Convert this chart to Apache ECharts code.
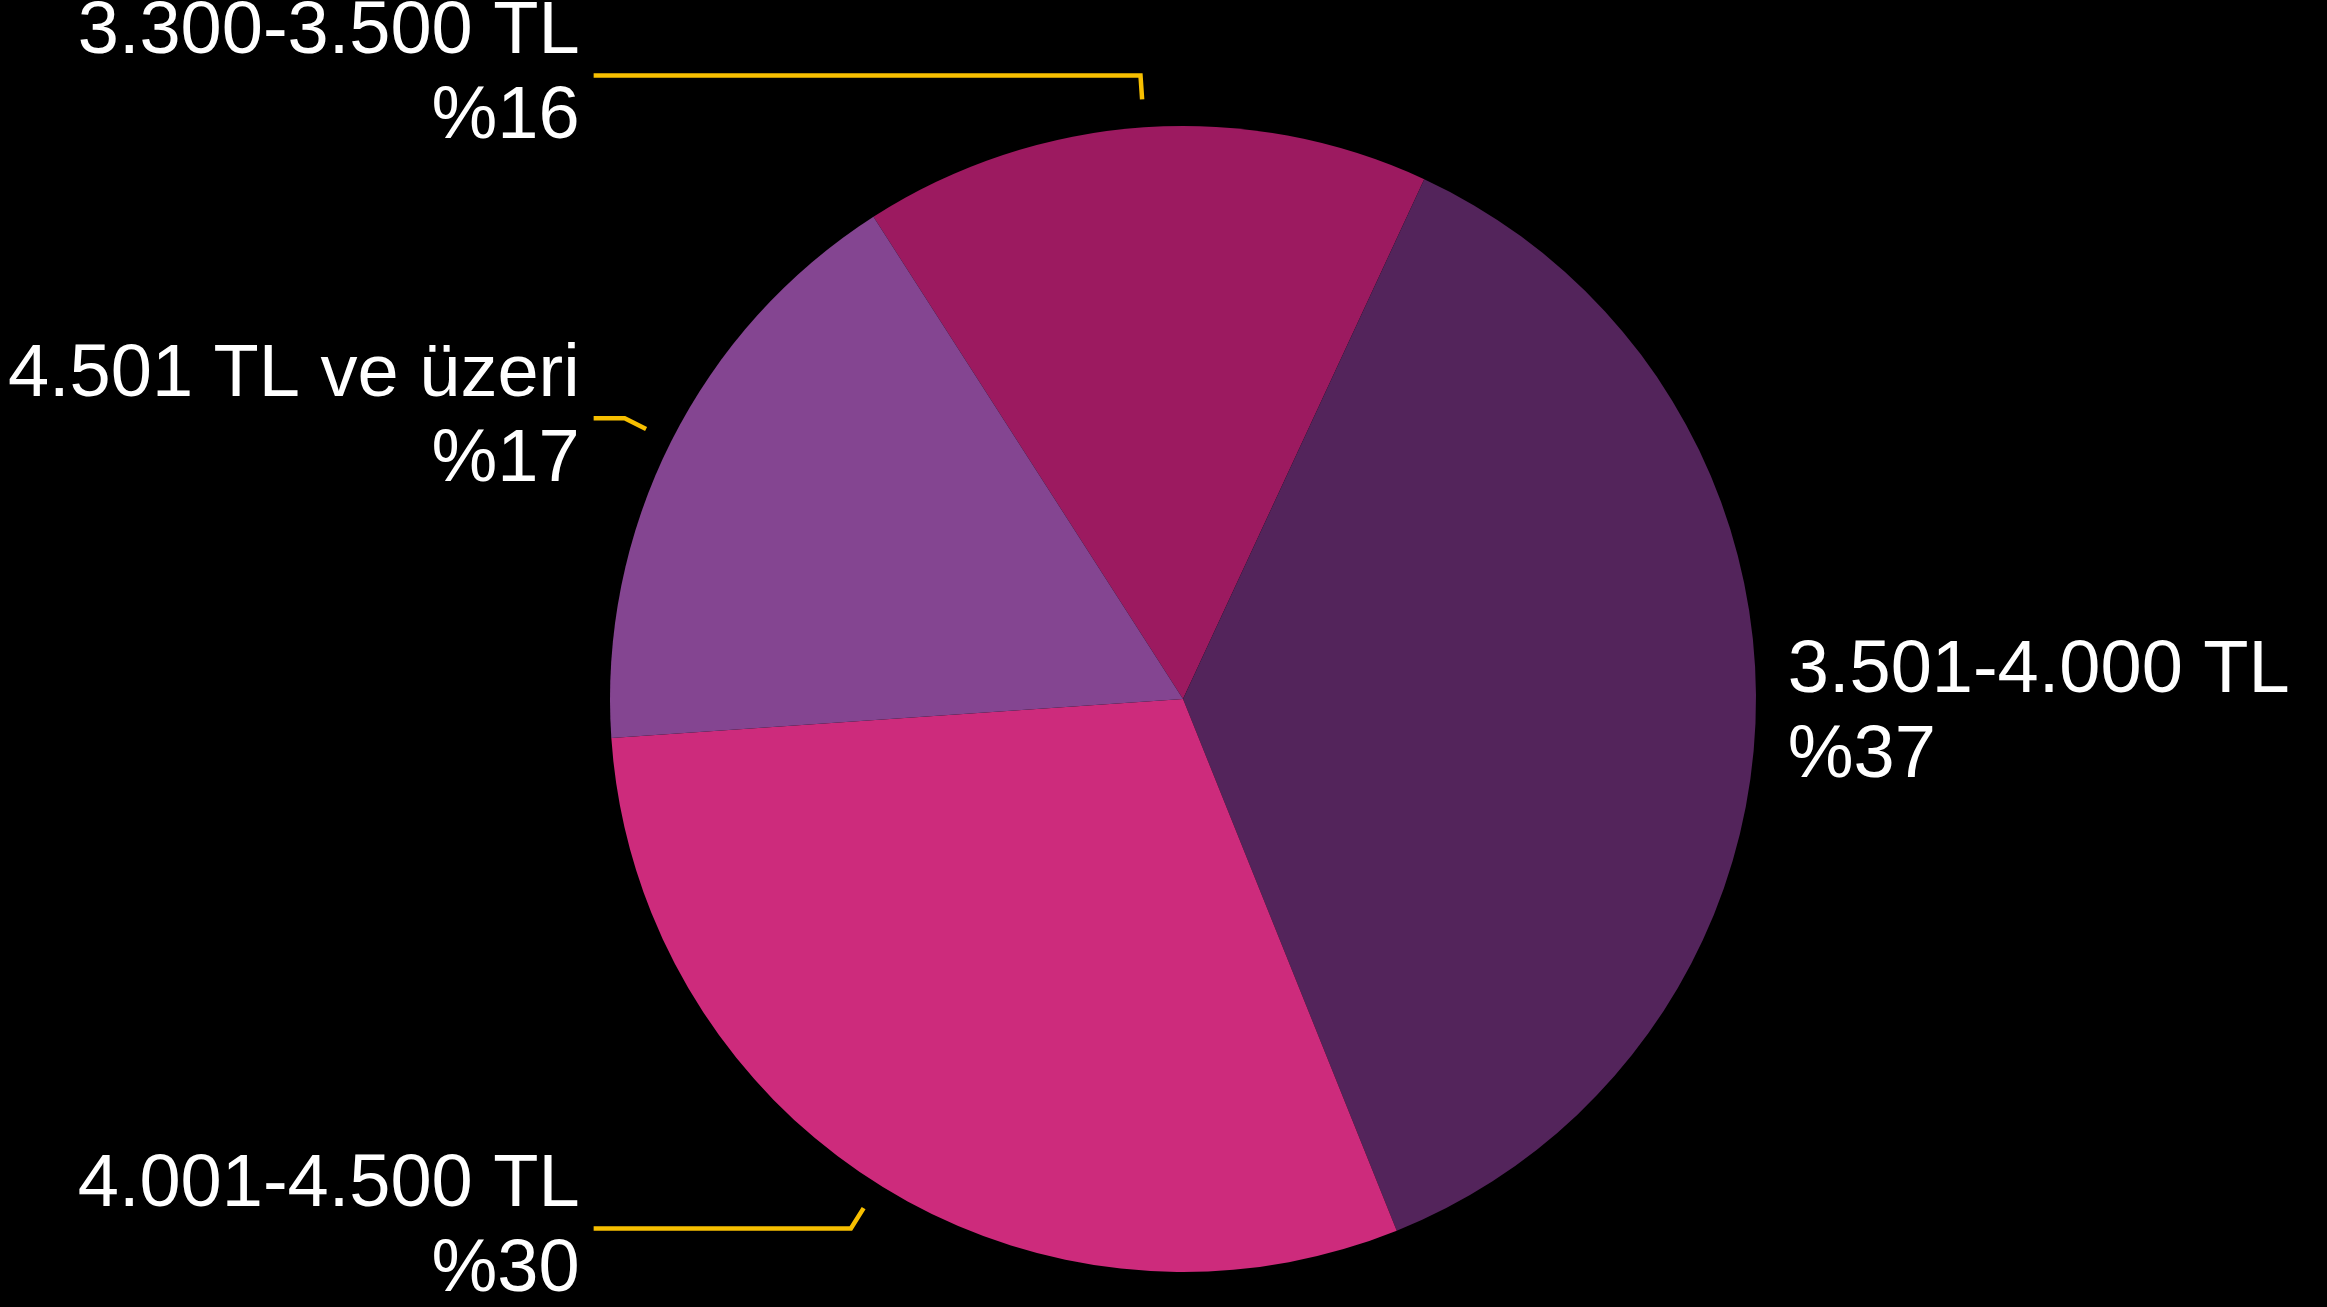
<!DOCTYPE html>
<html>
<head>
<meta charset="utf-8">
<script src="https://cdn.jsdelivr.net/npm/echarts@6/dist/echarts.min.js"></script>
<style>
  html, body { margin: 0; padding: 0; background: #000; }
  #chart { width: 2327px; height: 1307px; }
</style>
</head>
<body>
<div id="chart"></div>
<script>
// data
const categories = ["3.300-3.500 TL", "3.501-4.000 TL", "4.001-4.500 TL", "4.501 TL ve üzeri"];
const shares = [16, 37, 30, 17];
const colors = ["#9c1a60", "#53245b", "#cd2b7c", "#844591"];

// layout
const CX = 1183, CY = 699, R = 573;
const START_ANGLE = 122.7;
const LINE_LEN = 52;      // radial part of the leader line
const LINE_LEN2 = 31;     // shortest horizontal part
const LINE_GAP = 28;      // leader lines start a bit away from the slice
const LABEL_DIST = 14;

// x where the left-side leader lines end (shortest one sets it)
function leftLineEnd() {
  const total = shares.reduce((a, b) => a + b, 0);
  let a = START_ANGLE;
  let minX = Infinity;
  shares.forEach(function (v) {
    const span = (v / total) * 360;
    const mid = ((a - span / 2) * Math.PI) / 180;
    const x = CX + (R + LINE_LEN) * Math.cos(mid);
    if (x < CX) minX = Math.min(minX, x);
    a -= span;
  });
  return minX - LINE_LEN2;
}
const LEFT_END = leftLineEnd();

const chart = echarts.init(document.getElementById("chart"));

const option = {
  backgroundColor: "#000",
  animation: false,
  series: [
    {
      type: "pie",
      center: [CX, CY],
      radius: [0, R],
      startAngle: START_ANGLE,
      clockwise: true,
      avoidLabelOverlap: false,
      data: categories.map((name, i) => ({
        name: name,
        value: shares[i],
        itemStyle: { color: colors[i] },
        // the right label sits next to its slice, no leader line
        labelLine: i === 1 ? { show: false, length: 10, length2: 8 } : undefined,
      })),
      label: {
        show: true,
        position: "outside",
        overflow: "none",
        distanceToLabelLine: LABEL_DIST,
        formatter: "{b}\n%{c}",
        color: "#fff",
        fontFamily: "'Helvetica Neue', Helvetica, 'Liberation Sans', Arial, sans-serif",
        fontSize: 74,
        lineHeight: 85,
      },
      labelLine: {
        show: true,
        length: LINE_LEN,
        length2: LINE_LEN2,
        lineStyle: { color: "#f7bf00", width: 4.5 },
      },
      labelLayout: function (params) {
        const pts = params.labelLinePoints;
        if (!pts || pts.length < 3) return {};
        const p0 = pts[0], p1 = pts[1];
        const dx = p1[0] - p0[0], dy = p1[1] - p0[1];
        const len = Math.sqrt(dx * dx + dy * dy);
        const t = len > LINE_GAP ? LINE_GAP / len : 0;
        const start = [p0[0] + dx * t, p0[1] + dy * t];
        if (p1[0] < CX) {
          return {
            x: LEFT_END - LABEL_DIST,
            y: p1[1],
            align: "right",
            verticalAlign: "middle",
            labelLinePoints: [start, p1, [LEFT_END, p1[1]]],
          };
        }
        return { labelLinePoints: [start, p1, pts[2]] };
      },
    },
  ],
};

chart.setOption(option);
window.addEventListener("resize", function () {
  chart.resize();
});
</script>
</body>
</html>
